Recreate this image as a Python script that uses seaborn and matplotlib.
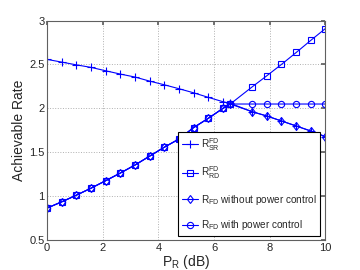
import pandas as pd
import seaborn as sns
import matplotlib.pyplot as plt

# Datos
p_r = [0, 0.53, 1.05, 1.58, 2.11, 2.63, 3.16, 3.68, 4.21, 4.74,
       5.26, 5.79, 6.32, 6.58, 7.37, 7.89, 8.42, 8.95, 9.47, 10]
r_sr = [2.557, 2.526, 2.495, 2.466, 2.427, 2.390, 2.356, 2.310, 2.268, 2.223,
        2.177, 2.125, 2.075, 2.057, 1.961, 1.913, 1.856, 1.799, 1.742, 1.677]
r_rd = [0.864, 0.936, 1.011, 1.091, 1.177, 1.263, 1.355, 1.455, 1.557, 1.651,
        1.780, 1.886, 2.000, 2.049, 2.245, 2.370, 2.500, 2.636, 2.773, 2.909]
r_sin_control = [min(a, b) for a, b in zip(r_sr, r_rd)]
r_con_control = [0.864, 0.936, 1.011, 1.091, 1.177, 1.263, 1.355, 1.455, 1.557, 1.651,
                 1.780, 1.886, 2.000, 2.049, 2.049, 2.049, 2.049, 2.049, 2.049, 2.049]

etiquetas = [r"R$_{SR}^{FD}$", r"R$_{RD}^{FD}$",
             r"R$_{FD}$ without power control", r"R$_{FD}$ with power control"]
marcadores = ["+", "s", "d", "o"]

df = pd.DataFrame({"P_R": p_r, "SR": r_sr, "RD": r_rd,
                   "sin": r_sin_control, "con": r_con_control})

sns.set_theme(style="white")
plt.rcParams['font.family'] = ['Liberation Sans', 'DejaVu Sans']
plt.rcParams['mathtext.fontset'] = 'custom'
plt.rcParams['mathtext.rm'] = 'Liberation Sans'
plt.rcParams['mathtext.it'] = 'Liberation Sans'

fig = plt.figure(figsize=(3.6, 2.7), dpi=100)
ax = fig.add_axes([0.131, 0.111, 0.773, 0.813])

for col, lab, m in zip(["SR", "RD", "sin", "con"], etiquetas, marcadores):
    sns.lineplot(data=df, x="P_R", y=col, ax=ax, color="blue", lw=0.8,
                 marker=m, markersize=4.5 if m != "+" else 6, markerfacecolor="none",
                 markeredgecolor="blue", markeredgewidth=0.8, label=lab,
                 sort=False, estimator=None)

ax.set_xlim(0, 10)
ax.set_ylim(0.5, 3)
ax.set_xticks([0, 2, 4, 6, 8, 10])
ax.set_yticks([0.5, 1, 1.5, 2, 2.5, 3])
ax.set_yticklabels(["0.5", "1", "1.5", "2", "2.5", "3"])
ax.grid(True, linestyle=":", color="#b0b0b0", lw=0.7)
ax.tick_params(direction="in", length=3, labelsize=8, top=True, right=True,
               color="#606060", pad=2)
for s in ax.spines.values():
    s.set_color("#606060")
    s.set_linewidth(0.8)
ax.set_xlabel(r"P$_R$ (dB)", fontsize=10, labelpad=0)
ax.set_ylabel("Achievable Rate", fontsize=10, labelpad=2)

ley = ax.legend(loc="lower right", bbox_to_anchor=(0.982, 0.018), fontsize=7.2,
                frameon=True, fancybox=False, edgecolor="black", framealpha=1,
                labelspacing=1.15, handlelength=1.6, borderpad=0.4, handletextpad=0.25,
                borderaxespad=0)
ley.get_frame().set_linewidth(0.8)

plt.savefig("out.png", dpi=100)
plt.clf()
plt.close()
